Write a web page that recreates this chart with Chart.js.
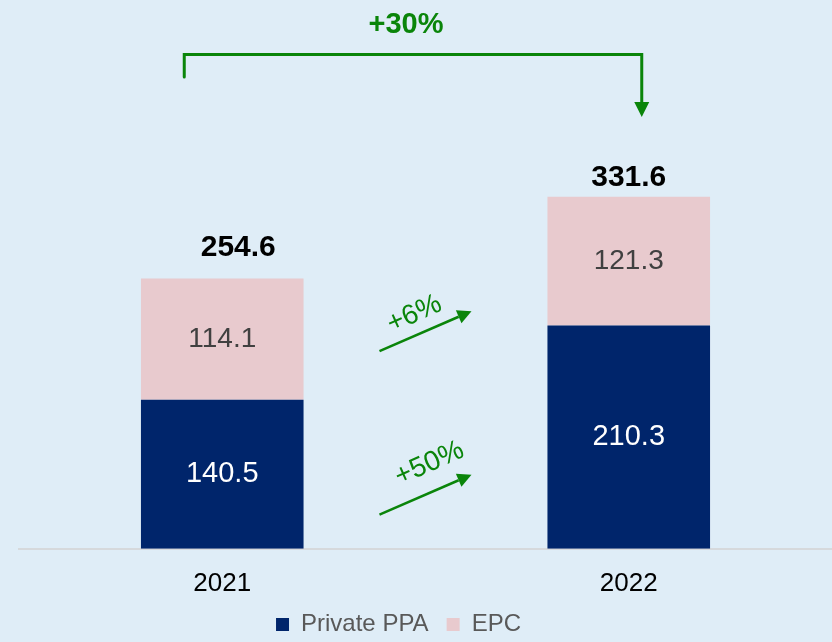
<!DOCTYPE html>
<html>
<head>
<meta charset="utf-8">
<script src="https://cdn.jsdelivr.net/npm/chart.js@4/dist/chart.umd.min.js"></script>
<style>
  html, body { margin: 0; padding: 0; background: #dfedf7; }
  #wrap { width: 832px; height: 642px; position: relative; }
</style>
</head>
<body>
<div id="wrap"><canvas id="c"></canvas></div>
<script>
const categories = ['2021', '2022'];
const privatePPA = [140.5, 210.3];
const epc = [114.1, 121.3];
const totals = [254.6, 331.6];
const segmentGrowth = ['+50%', '+6%'];
const totalGrowth = '+30%';

const FONT = '"Liberation Sans", Arial, sans-serif';
const GREEN = '#0a850a';

function arrowLine(ctx, x1, y1, x2, y2, head, hw) {
  const a = Math.atan2(y2 - y1, x2 - x1);
  const bx = x2 - head * Math.cos(a), by = y2 - head * Math.sin(a);
  ctx.beginPath();
  ctx.moveTo(x1, y1);
  ctx.lineTo(bx, by);
  ctx.stroke();
  ctx.beginPath();
  ctx.moveTo(x2, y2);
  ctx.lineTo(bx + hw * Math.sin(a), by - hw * Math.cos(a));
  ctx.lineTo(bx - hw * Math.sin(a), by + hw * Math.cos(a));
  ctx.closePath();
  ctx.fill();
}

// nudge the legend to the reference placement
const legendShift = {
  id: 'legendShift',
  afterLayout(chart) {
    const lg = chart.legend;
    if (!lg) return;
    const dx = -28, dy = -16.6;
    lg.left += dx; lg.right += dx;
    lg.top += dy; lg.bottom += dy;
  }
};

const labelPlugin = {
  id: 'labels',
  afterDatasetsDraw(chart) {
    const ctx = chart.ctx;
    const y = chart.scales.y;
    const m0 = chart.getDatasetMeta(0).data;
    const m1 = chart.getDatasetMeta(1).data;
    ctx.save();
    ctx.textAlign = 'center';
    ctx.textBaseline = 'middle';
    // segment values
    m0.forEach((b, i) => {
      ctx.font = '29px ' + FONT;
      ctx.fillStyle = '#ffffff';
      ctx.fillText(privatePPA[i].toFixed(1), b.x, (b.y + b.base) / 2);
    });
    m1.forEach((b, i) => {
      ctx.font = '28px ' + FONT;
      ctx.fillStyle = '#404040';
      ctx.fillText(epc[i].toFixed(1), b.x, (b.y + b.base) / 2);
    });
    // totals
    const totalOffsets = [[16, 31], [0, 19]];
    ctx.font = 'bold 30px ' + FONT;
    ctx.fillStyle = '#000000';
    m1.forEach((b, i) => {
      ctx.fillText(totals[i].toFixed(1), b.x + totalOffsets[i][0], y.getPixelForValue(totals[i]) - totalOffsets[i][1]);
    });

    // growth arrows between bars
    const midX = (m0[0].x + m0[1].x) / 2;
    ctx.strokeStyle = GREEN;
    ctx.fillStyle = GREEN;
    ctx.lineWidth = 2.5;
    const arrows = [
      { v: 51, label: segmentGrowth[0], tx: 4, ty: -31 },
      { v: 205, label: segmentGrowth[1], tx: -11, ty: -17 }
    ];
    arrows.forEach(a => {
      const cy = y.getPixelForValue(a.v);
      arrowLine(ctx, midX - 46, cy + 20, midX + 46, cy - 20, 14, 7);
      ctx.save();
      ctx.translate(midX + a.tx, cy + a.ty);
      ctx.rotate(-24 * Math.PI / 180);
      ctx.font = '28px ' + FONT;
      ctx.fillText(a.label, 0, 0);
      ctx.restore();
    });

    // total growth bracket
    const lx = m0[0].x - 38, rx = m0[1].x + 13;
    const topY = 54.5;
    ctx.lineWidth = 3;
    ctx.lineCap = 'round';
    ctx.beginPath();
    ctx.moveTo(lx, 77);
    ctx.lineTo(lx, topY);
    ctx.lineTo(rx, topY);
    ctx.lineTo(rx, 104);
    ctx.stroke();
    ctx.beginPath();
    ctx.moveTo(rx, 117);
    ctx.lineTo(rx - 7.5, 102);
    ctx.lineTo(rx + 7.5, 102);
    ctx.closePath();
    ctx.fill();
    ctx.font = 'bold 29px ' + FONT;
    ctx.fillText(totalGrowth, (lx + rx) / 2 - 7, 25);
    ctx.restore();
  }
};

new Chart(document.getElementById('c'), {
  type: 'bar',
  data: {
    labels: categories,
    datasets: [
      { label: 'Private PPA', data: privatePPA, backgroundColor: '#00256b', borderWidth: 0 },
      { label: 'EPC', data: epc, backgroundColor: '#e8cace', borderWidth: 0 }
    ]
  },
  options: {
    responsive: true,
    maintainAspectRatio: false,
    animation: false,
    layout: { padding: { left: 19, right: -2, top: 18, bottom: -21 } },
    datasets: { bar: { barPercentage: 0.8, categoryPercentage: 0.5 } },
    scales: {
      x: {
        stacked: true,
        grid: { display: false },
        border: { display: true, color: '#d6d9dc', width: 2 },
        ticks: { color: '#000000', font: { family: FONT, size: 26 }, padding: 11.5 }
      },
      y: { stacked: true, display: false, min: 0, max: 500 }
    },
    plugins: {
      legend: {
        position: 'bottom',
        labels: {
          color: '#595959',
          font: { family: FONT, size: 24 },
          boxWidth: 13, boxHeight: 13, padding: 18
        }
      },
      tooltip: { enabled: false }
    }
  },
  plugins: [labelPlugin, legendShift]
});
</script>
</body>
</html>
